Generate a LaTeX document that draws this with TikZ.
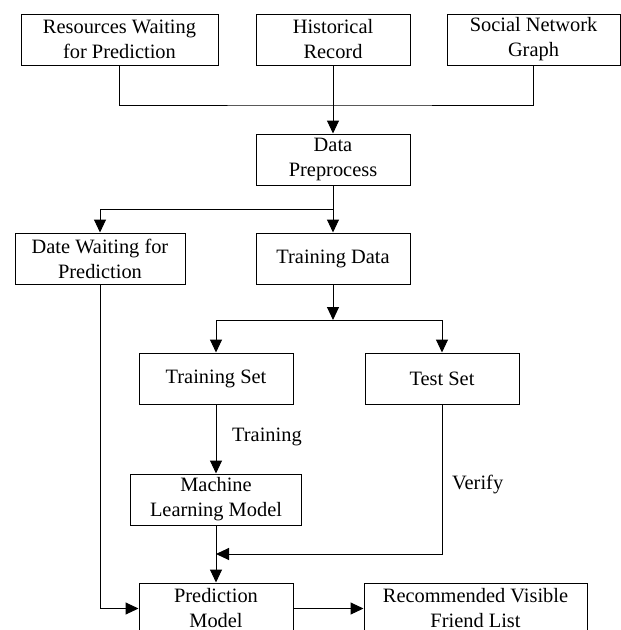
\documentclass[tikz,border=0pt]{standalone}
\usepackage{fontspec}
\setmainfont{Liberation Serif}
\usetikzlibrary{arrows.meta}
\begin{document}
\begin{tikzpicture}[x=1pt,y=-1pt,
  every node/.style={font=\fontsize{20.4}{25}\selectfont},
  box/.style={draw,line width=1pt,rectangle,inner sep=0pt,align=center,minimum height=51pt},
  conn/.style={line width=1pt},
  arr/.style={conn,-{Triangle[length=13pt,width=12pt]}},
  lbl/.style={inner sep=0pt,anchor=west}]
\useasboundingbox (0,0) rectangle (621,630);
\clip (0,0) rectangle (621,630);
\node[box,minimum width=197pt] (res) at (119.5,39.5) {Resources Waiting\\for Prediction};
\node[box,minimum width=154pt] (hist) at (333,39.5) {Historical\\Record};
\node[box,minimum width=173pt] (soc) at (533.5,39.5) {Social Network\\Graph};
\node[box,minimum width=154pt] (dp) at (333,159.5) {Data\\Preprocess};
\node[box,minimum width=170pt] (dwp) at (100,258.5) {Date Waiting for\\Prediction};
\node[box,minimum width=154pt] (td) at (333,258.5) {Training Data};
\node[box,minimum width=154pt] (ts) at (216,378.5) {Training Set};
\node[box,minimum width=154pt] (test) at (442,378.5) {Test Set};
\node[box,minimum width=171pt] (ml) at (216,499.5) {Machine\\Learning Model};
\node[box,minimum width=154pt] (pm) at (216,608.5) {Prediction\\Model};
\node[box,minimum width=223pt] (rec) at (475.5,608.5) {Recommended Visible\\Friend List};
\coordinate (j1) at (333,105);
\coordinate (j2) at (333,209.5);
\coordinate (j3) at (333,320);
\coordinate (j4) at (216,554);
\draw[conn] (res.south) |- (j1) -| (soc.south);
\draw[arr] (hist.south) -- (dp.north);
\draw[conn] (dp.south) -- (j2);
\draw[arr] (j2) -| (dwp.north);
\draw[arr] (j2) -- (td.north);
\draw[arr] (td.south) -- (j3);
\draw[arr] (j3) -| (ts.north);
\draw[arr] (j3) -| (test.north);
\draw[arr] (ts.south) -- (ml.north);
\node[lbl] (ltrain) at (232,437) {Training};
\draw[arr] (test.south) |- (j4);
\node[lbl] (lverify) at (452,485) {Verify};
\draw[arr] (ml.south) -- (pm.north);
\draw[arr] (dwp.south) |- (pm.west);
\draw[arr] (pm.east) -- (rec.west);
\end{tikzpicture}
\end{document}
